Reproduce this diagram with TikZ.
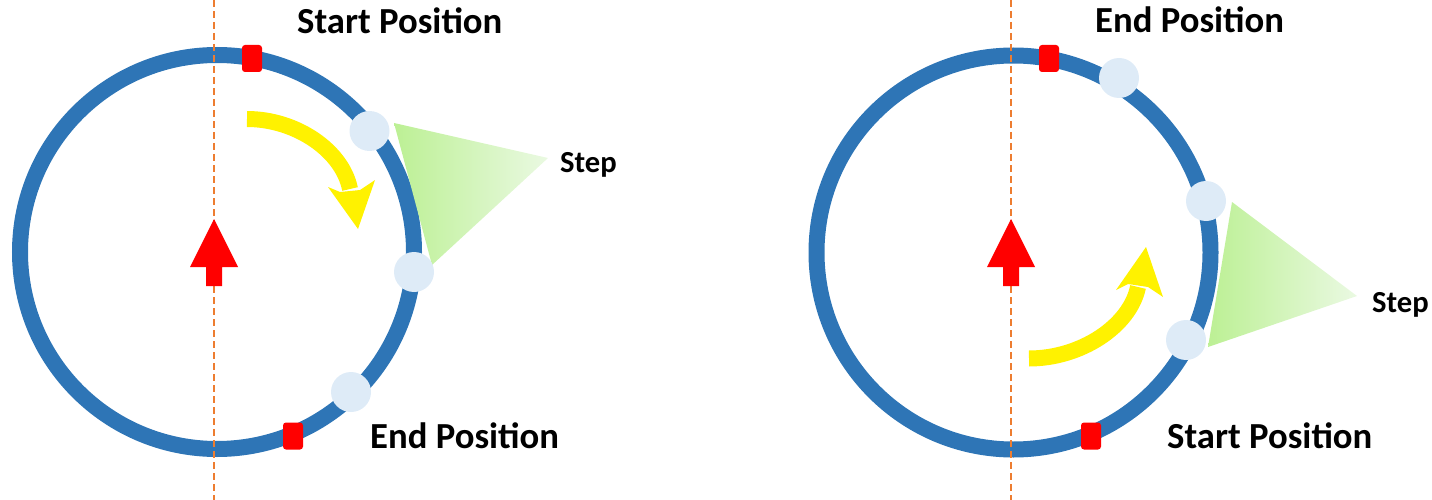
\documentclass[tikz,border=0pt]{standalone}
\usepackage{fontspec}
\setmainfont{Carlito}
\definecolor{ringblue}{RGB}{46,117,182}
\definecolor{dotblue}{RGB}{222,235,247}
\definecolor{axisorange}{RGB}{237,125,49}
\definecolor{stepgreen}{RGB}{188,240,148}
\definecolor{steplight}{RGB}{234,249,226}
\tikzset{
  ringnode/.style={circle, draw=ringblue, line width=16pt, minimum size=394pt, inner sep=0pt},
  axisline/.style={draw=axisorange, line width=1.5pt, dash pattern=on 7pt off 4pt},
  dotnode/.style={circle, fill=dotblue, minimum size=40pt, inner sep=0pt},
  marker/.style={rectangle, fill=red, rounded corners=3pt, minimum width=20pt, minimum height=27pt, inner sep=0pt},
  poslabel/.style={anchor=base west, inner sep=0pt, font=\bfseries\fontsize{36.7}{40}\selectfont},
  steplabel/.style={anchor=base west, inner sep=0pt, font=\bfseries\fontsize{30.6}{34}\selectfont},
  yshaft/.style={draw=yellow, line width=16pt},
  yhead/.style={fill=yellow},
  redarrow/.style={fill=red},
  stepshade/.style={left color=stepgreen, right color=steplight}
}
\begin{document}
\begin{tikzpicture}[x=1pt,y=-1pt]
\useasboundingbox (0,0) rectangle (1432,500);
% ===== Left diagram =====
\node[ringnode] (ringL) at (217,252) {};
\coordinate (axLt) at (214,0);
\coordinate (axLb) at (214,500);
\draw[axisline] (axLt) -- (axLb);
\shade[stepshade] (394,123) -- (548,158) -- (432,265) -- cycle;
\node[dotnode] (dL1) at (369.5,131) {};
\node[dotnode] (dL2) at (414,272) {};
\node[dotnode] (dL3) at (351,392) {};
\node[marker] (mLs) at (252,58.5) {};
\node[marker] (mLe) at (293,436) {};
\fill[redarrow] (206,286) -- (206,267) -- (190,267) -- (214,219) -- (238,267) -- (222,267) -- (222,286) -- cycle;
\coordinate (yLs) at (247,119);
\coordinate (yLe) at (350,189);
\draw[yshaft] (yLs) .. controls (296,119) and (342.3,150.5) .. (yLe);
\fill[yhead] (328,187) -- (358,229) -- (375,180) -- (360,190) -- (340,192) -- cycle;
\node[poslabel] (tLs) at (297,34) {Start Position};
\node[poslabel] (tLe) at (370,448) {End Position};
\node[steplabel] (tLstep) at (560,172) {Step};
% ===== Right diagram =====
\node[ringnode] (ringR) at (1013.5,252.5) {};
\coordinate (axRt) at (1011,0);
\coordinate (axRb) at (1011,500);
\draw[axisline] (axRt) -- (axRb);
\shade[stepshade] (1232,202) -- (1357,296) -- (1208,347) -- cycle;
\node[dotnode] (dR1) at (1119,78) {};
\node[dotnode] (dR2) at (1206,201) {};
\node[dotnode] (dR3) at (1186,340) {};
\node[marker] (mRe) at (1049,58.5) {};
\node[marker] (mRs) at (1091,436) {};
\fill[redarrow] (1003,286) -- (1003,267) -- (987,267) -- (1011,219) -- (1035,267) -- (1019,267) -- (1019,286) -- cycle;
\coordinate (yRs) at (1029,358.5);
\coordinate (yRe) at (1138,287);
\draw[yshaft] (yRs) .. controls (1081,358.5) and (1130,326) .. (yRe);
\fill[yhead] (1116,290) -- (1146,247) -- (1163,297) -- (1148,287) -- (1128,284) -- cycle;
\node[poslabel] (tRe) at (1095,33) {End Position};
\node[poslabel] (tRs) at (1167,448) {Start Position};
\node[steplabel] (tRstep) at (1372,312) {Step};
\end{tikzpicture}
\end{document}
